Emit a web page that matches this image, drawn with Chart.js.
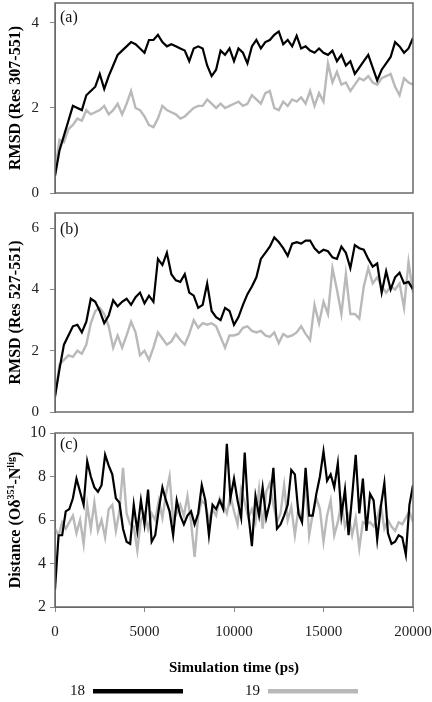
<!DOCTYPE html>
<html>
<head>
<meta charset="utf-8">
<script src="https://cdn.jsdelivr.net/npm/chart.js@4.4.0/dist/chart.umd.min.js"></script>
<style>
  html, body { margin: 0; padding: 0; background: #fff; }
  #wrap { position: relative; width: 432px; height: 702px; }
  canvas { position: absolute; left: 0; }
</style>
</head>
<body>
<div id="wrap">
  <canvas id="panelA" width="432" height="200" style="top:0px;width:432px;height:200px"></canvas>
  <canvas id="panelB" width="432" height="220" style="top:200px;width:432px;height:220px"></canvas>
  <canvas id="panelC" width="432" height="282" style="top:420px;width:432px;height:282px"></canvas>
</div>
<script>
// ========== DATA ==========

const seriesNames = ['18', '19'];
const seriesColors = ['#000000', '#b9b9b9'];
const xTicks = [0, 5000, 10000, 15000, 20000];
const xTitle = 'Simulation time (ps)';

// sampling interval of the values below (ps)
const STEP_RMSD = 250;
const STEP_DIST = 200;

// (a) RMSD (Res 307-551)
const rmsdA18 = [
  0.4, 1.0, 1.35, 1.7, 2.05, 2.0, 1.95, 2.3, 2.4, 2.5,
  2.8, 2.45, 2.75, 3.0, 3.25, 3.35, 3.45, 3.55, 3.5, 3.4,
  3.3, 3.6, 3.6, 3.72, 3.55, 3.45, 3.5, 3.45, 3.4, 3.35,
  3.1, 3.4, 3.45, 3.4, 3.0, 2.75, 2.9, 3.35, 3.25, 3.4,
  3.1, 3.4, 3.3, 3.05, 3.45, 3.6, 3.4, 3.55, 3.6, 3.72,
  3.8, 3.5, 3.6, 3.45, 3.7, 3.4, 3.45, 3.35, 3.3, 3.4,
  3.3, 3.25, 3.35, 3.1, 3.25, 3.0, 3.1, 2.8, 2.95, 3.1,
  3.25, 2.95, 2.65, 2.9, 3.05, 3.2, 3.55, 3.45, 3.3, 3.4,
  3.65
];
const rmsdA19 = [
  0.5, 1.25, 1.2, 1.5, 1.6, 1.75, 1.7, 1.95, 1.85, 1.9,
  1.95, 2.05, 1.85, 1.95, 2.1, 1.85, 2.1, 2.4, 2.0, 1.95,
  1.8, 1.6, 1.55, 1.75, 2.05, 1.95, 1.9, 1.85, 1.75, 1.8,
  1.9, 2.0, 2.05, 2.05, 2.2, 2.1, 2.0, 2.1, 2.0, 2.05,
  2.1, 2.15, 2.05, 2.1, 2.3, 2.2, 2.1, 2.35, 2.4, 2.0,
  1.95, 2.15, 2.05, 2.2, 2.15, 2.25, 2.1, 2.4, 2.05, 2.35,
  2.15, 3.05, 2.6, 2.85, 2.55, 2.6, 2.4, 2.55, 2.7, 2.65,
  2.75, 2.6, 2.55, 2.7, 2.75, 2.8, 2.5, 2.3, 2.7, 2.6,
  2.55
];

// (b) RMSD (Res 527-551)
const rmsdB18 = [
  0.5, 1.4, 2.2, 2.5, 2.8, 2.85, 2.6, 2.95, 3.7, 3.6,
  3.3, 2.9, 3.15, 3.65, 3.45, 3.6, 3.7, 3.5, 3.75, 3.9,
  3.55, 3.8, 3.6, 5.0, 4.8, 5.2, 4.5, 4.3, 4.25, 4.5,
  3.9, 3.8, 3.4, 3.5, 4.2, 3.3, 3.1, 3.0, 3.4, 3.3,
  2.85, 3.1, 3.5, 3.85, 4.1, 4.4, 5.0, 5.2, 5.4, 5.7,
  5.55, 5.35, 5.1, 5.5, 5.55, 5.5, 5.6, 5.6, 5.35, 5.2,
  5.3, 5.25, 5.05, 5.0, 5.4, 5.2, 4.7, 5.45, 5.35, 5.3,
  5.0, 4.75, 4.85, 3.9, 4.6, 4.0, 4.4, 4.55, 4.2, 4.25,
  4.0
];
const rmsdB19 = [
  0.5, 1.55, 1.7, 1.85, 1.8, 2.0, 1.9, 2.2, 2.9, 3.3,
  3.4, 3.2, 2.8, 2.1, 2.5, 2.1, 2.5, 2.95, 2.6, 1.85,
  2.0, 1.7, 2.1, 2.6, 2.4, 2.2, 2.3, 2.55, 2.35, 2.2,
  2.55, 3.0, 2.75, 2.9, 2.85, 2.9, 2.8, 2.45, 2.1, 2.5,
  2.5, 2.55, 2.75, 2.8, 2.65, 2.6, 2.65, 2.5, 2.45, 2.6,
  2.25, 2.55, 2.45, 2.5, 2.6, 2.8, 2.55, 2.35, 3.5, 2.9,
  3.6, 3.2, 4.7, 4.0, 3.2, 4.5, 3.2, 3.2, 3.05, 4.1,
  4.7, 4.2, 4.4, 4.1, 3.9, 4.1, 4.0, 4.2, 3.4, 4.9,
  3.9
];

// (c) Distance Od351 - Nlig
const distC18 = [
  2.8, 5.3, 5.3, 6.4, 6.5, 7.0, 7.9, 7.3, 6.7, 8.7,
  8.0, 7.5, 7.3, 7.6, 9.0, 8.5, 8.1, 7.0, 6.8, 5.6,
  5.0, 4.9, 6.7, 5.5, 6.9, 5.8, 7.4, 5.0, 5.3, 6.5,
  7.5, 6.9, 6.4, 5.3, 6.9, 6.2, 5.8, 6.2, 6.4, 5.8,
  6.3, 7.6, 6.9, 5.3, 6.7, 6.5, 6.9, 6.5, 9.5, 7.0,
  7.9, 6.9, 6.1, 9.1, 6.3, 4.8, 7.1, 6.2, 7.5, 6.1,
  6.8, 8.4, 5.6, 5.8, 6.2, 6.7, 8.3, 8.1, 6.3, 5.9,
  8.4, 6.2, 6.2, 7.2, 8.0, 9.15, 7.8, 8.1, 7.5, 8.6,
  6.2, 7.4, 5.3, 7.1, 9.0, 6.3, 7.9, 5.5, 7.2, 6.9,
  5.1, 6.6, 7.7, 5.4, 4.9, 5.0, 5.3, 5.2, 4.4, 6.7,
  7.6
];
const distC19 = [
  5.6, 5.3, 5.9, 5.6, 5.9, 6.2, 5.4, 6.0, 4.9, 6.7,
  5.6, 6.8, 5.5, 6.0, 5.2, 6.5, 6.7, 5.5, 6.4, 8.4,
  6.3, 5.8, 5.7, 4.6, 6.0, 6.3, 5.6, 6.3, 6.0, 6.9,
  6.1, 7.2, 8.0, 6.0, 6.3, 6.7, 6.2, 7.1, 5.9, 4.3,
  6.2, 6.9, 6.7, 6.0, 6.5, 6.2, 7.0, 6.7, 6.3, 7.1,
  6.4, 5.8, 7.4, 6.8, 6.1, 6.5, 5.9, 7.4, 5.6, 7.3,
  7.7, 6.7, 5.9, 6.3, 7.6, 6.0, 6.6, 5.3, 6.5, 6.0,
  7.8, 5.3, 6.3, 7.0, 6.5, 5.0, 6.2, 6.9, 5.3, 5.9,
  6.8, 5.7, 6.2, 5.3, 6.1, 4.7, 5.9, 5.8, 5.9, 5.7,
  6.1, 6.7, 5.6, 6.0, 5.7, 5.5, 5.9, 5.8, 6.1, 6.4,
  5.9
];

// ========== HELPERS ==========

Chart.defaults.font.family = '"Liberation Serif", "Times New Roman", serif';
Chart.defaults.color = '#222';

function toPoints(values, step) {
  return values.map((v, i) => ({ x: i * step, y: v }));
}

// frame, panel tag and rotated y title (with superscript parts)
const panelDeco = {
  id: 'panelDeco',
  afterDraw(chart, args, opts) {
    const { ctx, chartArea: a } = chart;
    ctx.save();
    ctx.strokeStyle = '#6a6a6a';
    ctx.lineWidth = 1.5;
    ctx.strokeRect(a.left, a.top, a.right - a.left, a.bottom - a.top);

    ctx.fillStyle = '#111';
    ctx.font = '16px "Liberation Serif", serif';
    ctx.textAlign = 'left';
    ctx.textBaseline = 'alphabetic';
    ctx.fillText(opts.tag, a.left + 5, a.top + opts.tagY);

    // y title
    const big = 'bold 16px "Liberation Serif", serif';
    const small = 'bold 10px "Liberation Serif", serif';
    let total = 0;
    opts.title.forEach(p => {
      ctx.font = p.sup ? small : big;
      total += ctx.measureText(p.t).width;
    });
    ctx.translate(16, (a.top + a.bottom) / 2);
    ctx.rotate(-Math.PI / 2);
    ctx.textBaseline = 'middle';
    ctx.fillStyle = '#000';
    let x = -total / 2;
    opts.title.forEach(p => {
      ctx.font = p.sup ? small : big;
      ctx.fillText(p.t, x, p.sup ? -5 : 0);
      x += ctx.measureText(p.t).width;
    });
    ctx.restore();
  }
};

// legend row under the bottom panel
const seriesKey = {
  id: 'seriesKey',
  afterDraw(chart) {
    const { ctx } = chart;
    const y = chart.height - 11;
    ctx.save();
    chart.data.datasets.forEach((ds, i) => {
      const x0 = 70 + i * 175;
      ctx.font = '15px "Liberation Serif", serif';
      ctx.fillStyle = '#111';
      ctx.textAlign = 'left';
      ctx.textBaseline = 'middle';
      ctx.fillText(ds.label, x0, y);
      ctx.fillStyle = ds.borderColor;
      ctx.fillRect(x0 + 23, y - 2, 90, 4.5);
    });
    ctx.restore();
  }
};

function makePanel(id, cfg) {
  const showX = !!cfg.showX;
  return new Chart(document.getElementById(id), {
    type: 'line',
    data: {
      datasets: [
        { label: seriesNames[0], data: toPoints(cfg.s18, cfg.step), borderColor: seriesColors[0],
          borderWidth: 2.2, pointRadius: 0, tension: 0 },
        { label: seriesNames[1], data: toPoints(cfg.s19, cfg.step), borderColor: seriesColors[1],
          borderWidth: 2.4, pointRadius: 0, tension: 0 }
      ]
    },
    options: {
      responsive: false,
      animation: false,
      events: [],
      layout: { padding: { left: 0, right: 19, top: cfg.padTop, bottom: cfg.padBottom } },
      plugins: {
        legend: { display: false },
        tooltip: { enabled: false },
        panelDeco: { tag: cfg.tag, tagY: cfg.tagY, title: cfg.title }
      },
      scales: {
        x: {
          type: 'linear',
          min: 0,
          max: 20000,
          display: showX,
          afterBuildTicks: s => { s.ticks = xTicks.map(v => ({ value: v })); },
          ticks: {
            font: { size: 15 }, color: '#222', padding: 11, maxRotation: 0, autoSkip: false,
            callback: v => String(v)
          },
          grid: { drawOnChartArea: false, tickLength: 5, color: '#888' },
          border: { color: '#6a6a6a' },
          title: { display: showX, text: xTitle, font: { size: 15, weight: 'bold' }, color: '#000', padding: 0 },
          afterFit: s => {
            if (!showX) return;
            s.height = 70; s.paddingLeft = 0; s.paddingRight = 0;
          }
        },
        y: {
          min: cfg.yMin,
          max: cfg.yMax,
          ticks: { stepSize: cfg.yStep, includeBounds: false, font: { size: cfg.tickSize }, color: '#222', padding: cfg.tickPad },
          grid: { drawOnChartArea: false, tickLength: 5, color: '#888' },
          border: { color: '#6a6a6a' },
          afterFit: s => { s.width = 55; s.paddingTop = 0; s.paddingBottom = 0; }
        }
      }
    },
    plugins: showX ? [panelDeco, seriesKey] : [panelDeco]
  });
}

// ========== PANELS ==========

makePanel('panelA', {
  tag: '(a)', tagY: 19, title: [{ t: 'RMSD (Res 307-551)' }],
  s18: rmsdA18, s19: rmsdA19, step: STEP_RMSD,
  yMin: 0, yMax: 4.47, yStep: 2, tickSize: 15, tickPad: 11,
  padTop: 3, padBottom: 7
});

makePanel('panelB', {
  tag: '(b)', tagY: 21, title: [{ t: 'RMSD (Res 527-551)' }],
  s18: rmsdB18, s19: rmsdB19, step: STEP_RMSD,
  yMin: 0, yMax: 6.5, yStep: 2, tickSize: 15, tickPad: 11,
  padTop: 13, padBottom: 8
});

makePanel('panelC', {
  tag: '(c)', tagY: 16,
  title: [{ t: 'Distance (Oδ' }, { t: '351', sup: true }, { t: '-N' }, { t: 'lig', sup: true }, { t: ')' }],
  s18: distC18, s19: distC19, step: STEP_DIST,
  yMin: 2, yMax: 10, yStep: 2, tickSize: 16, tickPad: 4,
  padTop: 13, padBottom: 25, showX: true
});
</script>
</body>
</html>
